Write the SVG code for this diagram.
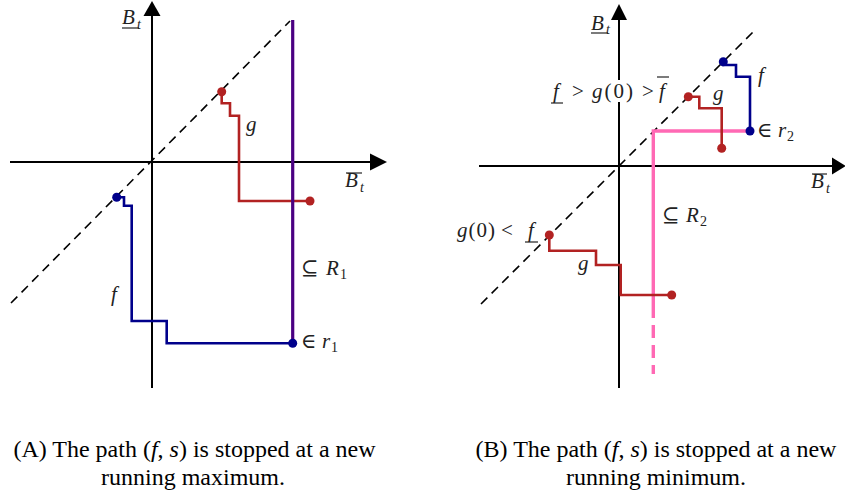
<svg xmlns="http://www.w3.org/2000/svg" width="845" height="498" viewBox="0 0 845 498">
<style>
.ax{stroke:#000;stroke-width:2;fill:none}
.hd{fill:#000}
.dash{stroke:#000;stroke-width:1.6;fill:none;stroke-dasharray:9,6}
.red{stroke:#B22222;stroke-width:2.6;fill:none;stroke-linejoin:miter}
.blue{stroke:#00008B;stroke-width:2.6;fill:none}
.pur{stroke:#4B0082;stroke-width:3.2;fill:none}
.pink{stroke:#FF69B4;stroke-width:3.4;fill:none}
.rd{fill:#B22222}
.bd{fill:#00008B}
.m{font-family:"Liberation Serif","DejaVu Serif",serif;font-size:21px;fill:#222}
.i{font-style:italic}
.s{font-size:14px}
.cap{font-family:"Liberation Serif",serif;font-size:24px;fill:#000;text-anchor:middle}
.ln{stroke:#222;stroke-width:1.2}
</style>
<rect width="845" height="498" fill="#fff"/>

<g id="connectors">
<g id="axesA">
<line class="ax" x1="152" y1="14" x2="152" y2="388"/>
<polygon class="hd" points="152,1 143.5,16 160.5,16"/>
<line class="ax" x1="10" y1="162" x2="372" y2="162"/>
<polygon class="hd" points="387,162 370,153.5 370,170.5"/>
<line class="dash" x1="11" y1="303" x2="290" y2="21"/>
</g>
<g id="axesB">
<line class="ax" x1="619" y1="18" x2="619" y2="388"/>
<polygon class="hd" points="619,4 611,20 627,20"/>
<line class="ax" x1="479" y1="166" x2="835" y2="166"/>
<polygon class="hd" points="846,166 832,157.5 832,174.5"/>
<line class="dash" x1="481" y1="304" x2="755" y2="30"/>
</g>
</g>

<g id="pathA-g">
<polyline class="red" points="221.7,91.7 221.7,103.3 230,103.3 230,115.7 239,115.7 239,201 310,201"/>
<circle class="rd" cx="221.7" cy="91.7" r="4.5"/>
<circle class="rd" cx="310" cy="201" r="4.5"/>
</g>
<g id="pathA-f">
<polyline class="blue" points="116.7,197.3 124,197.3 124,205.7 131.7,205.7 131.7,321 166.7,321 166.7,343.3 292.7,343.3"/>
<circle class="bd" cx="116.7" cy="197.3" r="4.5"/>
</g>
<g id="regionA">
<line class="pur" x1="292.7" y1="20" x2="292.7" y2="343.3"/>
<circle class="bd" cx="292.7" cy="343.3" r="4.5"/>
</g>

<g id="regionB">
<polyline class="pink" points="750,131 653.3,131 653.3,318"/>
<line class="pink" x1="653.3" y1="325" x2="653.3" y2="374" stroke-dasharray="13,7"/>
</g>
<g id="pathB-f">
<polyline class="blue" points="723.3,61.7 723.3,65 736,65 736,76.7 750,76.7 750,131"/>
<circle class="bd" cx="723.3" cy="61.7" r="4.5"/>
<circle class="bd" cx="750" cy="131" r="4.5"/>
</g>
<g id="pathB-g1">
<polyline class="red" points="688.3,96.7 699.3,96.7 699.3,108.3 721.7,108.3 721.7,148.3"/>
<circle class="rd" cx="688.3" cy="96.7" r="4.5"/>
<circle class="rd" cx="721.7" cy="148.3" r="4.5"/>
</g>
<g id="pathB-g2">
<polyline class="red" points="549.3,235 549.3,250.7 596,250.7 596,265 620.7,265 620.7,295 671.7,295"/>
<circle class="rd" cx="549.3" cy="235" r="4.5"/>
<circle class="rd" cx="671.7" cy="295" r="4.5"/>
</g>

<g id="labelA-y">
<text class="m i" x="122" y="24">B</text>
<text class="m s i" x="137" y="29">t</text>
<line class="ln" x1="122" y1="28" x2="139" y2="28"/>
</g>
<g id="labelA-x">
<line class="ln" x1="346" y1="173" x2="362" y2="173"/>
<text class="m i" x="345" y="187">B</text>
<text class="m s i" x="360" y="192">t</text>
</g>
<g id="labelA-g"><text class="m i" x="246" y="131">g</text></g>
<g id="labelA-f"><text class="m i" x="111" y="301">f</text></g>
<g id="labelA-R"><text class="m" x="301" y="275">⊆</text><text class="m i" x="326" y="275">R</text><text class="m s" x="340" y="279">1</text></g>
<g id="labelA-r"><text class="m" x="301" y="348">∈</text><text class="m i" x="322" y="348">r</text><text class="m s" x="331" y="352">1</text></g>

<g id="labelB-y">
<text class="m i" x="591" y="30">B</text>
<text class="m s i" x="606" y="34">t</text>
<line class="ln" x1="591" y1="33" x2="608" y2="33"/>
</g>
<g id="labelB-x">
<line class="ln" x1="812" y1="174" x2="827" y2="174"/>
<text class="m i" x="811" y="188">B</text>
<text class="m s i" x="826" y="193">t</text>
</g>
<g id="labelB-f"><text class="m i" x="758" y="82">f</text></g>
<g id="labelB-g1"><text class="m i" x="713" y="100">g</text></g>
<g id="labelB-g2"><text class="m i" x="578" y="270">g</text></g>
<g id="labelB-R"><text class="m" x="662" y="222">⊆</text><text class="m i" x="686" y="222">R</text><text class="m s" x="700" y="226">2</text></g>
<g id="labelB-r"><text class="m" x="757" y="137">∈</text><text class="m i" x="778" y="137">r</text><text class="m s" x="787" y="141">2</text></g>
<g id="labelB-ineq1">
<rect x="612" y="80" width="14" height="22" fill="#fff"/>
<text class="m i" x="553" y="98">f</text>
<text class="m" x="572" y="98">&gt;</text>
<text class="m" x="592" y="98" textLength="41" lengthAdjust="spacing"><tspan class="i">g</tspan>(0)</text>
<text class="m" x="642" y="98">&gt;</text>
<text class="m i" x="659" y="98">f</text>
<line class="ln" x1="551" y1="103" x2="563" y2="103"/>
<line class="ln" x1="657" y1="77" x2="669" y2="77"/>
</g>
<g id="labelB-ineq2">
<text class="m" x="457" y="237" textLength="38" lengthAdjust="spacing"><tspan class="i">g</tspan>(0)</text>
<text class="m" x="501" y="237">&lt;</text>
<text class="m i" x="528" y="237">f</text>
<line class="ln" x1="525" y1="242" x2="538" y2="242"/>
</g>

<g id="captionA">
<text class="cap" x="194.5" y="457">(A) The path (<tspan font-style="italic">f</tspan>, <tspan font-style="italic">s</tspan>) is stopped at a new</text>
<text class="cap" x="193" y="485">running maximum.</text>
</g>
<g id="captionB">
<text class="cap" x="656" y="457">(B) The path (<tspan font-style="italic">f</tspan>, <tspan font-style="italic">s</tspan>) is stopped at a new</text>
<text class="cap" x="656" y="485">running minimum.</text>
</g>
</svg>
